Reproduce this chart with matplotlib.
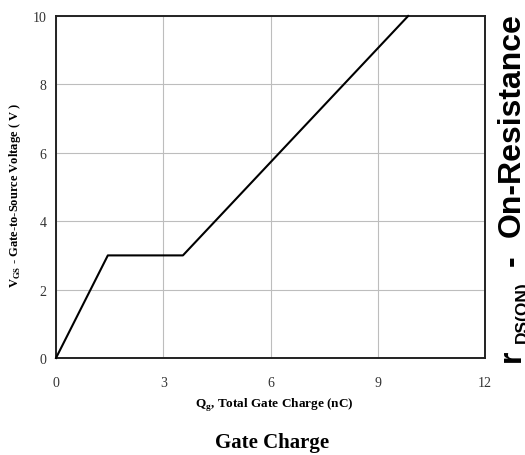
import numpy as np
import matplotlib
matplotlib.use("Agg")
import matplotlib.pyplot as plt

# data
qg = [0, 1.45, 3.55, 9.85]
vgs = [0, 3, 3, 10]
xticks = [0, 3, 6, 9, 12]
yticks = [0, 2, 4, 6, 8, 10]

plt.rcParams['font.family'] = 'Liberation Serif'
plt.rcParams['mathtext.fontset'] = 'custom'
plt.rcParams['mathtext.rm'] = 'Liberation Serif:bold'

W, H = 525, 456
fig = plt.figure(figsize=(W / 100, H / 100), dpi=100)
ax = fig.add_axes([56 / W, 1 - 359 / H, 429 / W, 342 / H])

ax.plot(qg, vgs, color='black', lw=1.5, clip_on=False, zorder=3)

ax.set_xlim(0, 12)
ax.set_ylim(0, 10)
ax.set_xticks(xticks)
ax.set_yticks(yticks)
ax.grid(True, color='#bdbdbd', lw=0.8)
ax.tick_params(length=0, labelsize=10, colors='#333333')
ax.tick_params(axis='x', pad=13)
ax.tick_params(axis='y', pad=7)
for s in ax.spines.values():
    s.set_linewidth(1.4)
    s.set_color('#222222')

ax.set_xlabel(r'Q$_\mathrm{g}$, Total Gate Charge (nC)', fontsize=9.5, fontweight='bold')
ax.set_ylabel(r'V$_\mathrm{GS}$ - Gate-to-Source Voltage ( V )', fontsize=9, fontweight='bold')
ax.xaxis.set_label_coords((274 - 56) / 429, -(405 - 359) / 342)
ax.yaxis.set_label_coords(-(56 - 15) / 429, (359 - 195) / 342)
ax.xaxis.label.set_va('center')
ax.yaxis.label.set_va('center')

fig.text(272 / W, 8 / H, 'Gate Charge', ha='center', va='baseline', fontsize=15, fontweight='bold')

# piece of the next chart's label, cut off at the edge
side = dict(rotation=90, rotation_mode='anchor', va='baseline',
            fontweight='bold', family='Liberation Sans')
fig.text(520 / W, 1 - 362 / H, 'r', ha='left', fontsize=23, **side)
fig.text(527 / W, 1 - 343 / H, 'DS(ON)', ha='left', fontsize=12.5, **side)
fig.text(520 / W, 1 - 261 / H, '-', ha='center', fontsize=23, **side)
fig.text(520 / W, 1 - 13 / H, 'On-Resistance', ha='right', fontsize=23, **side)

fig.savefig('out.png', dpi=100)
